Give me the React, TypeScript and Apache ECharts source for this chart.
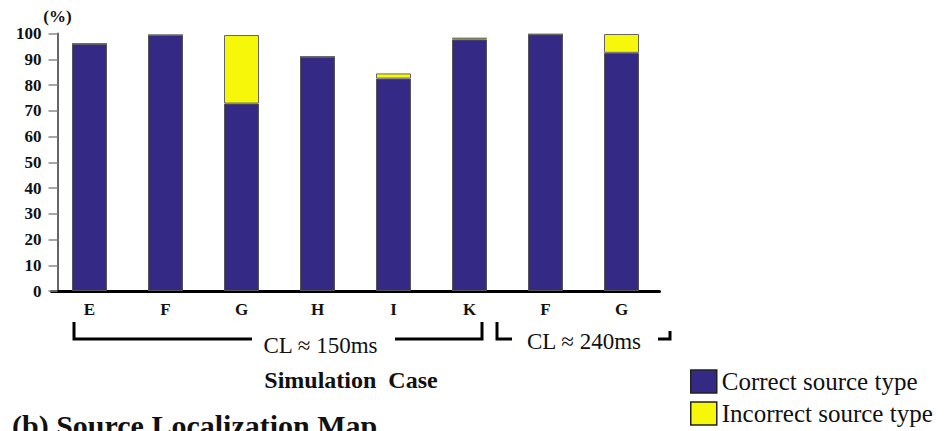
import React, { useEffect, useRef } from "react";
import * as echarts from "echarts";

const categories = ["E", "F", "G", "H", "I", "K", "F", "G"];
const correctValues = [96, 99.4, 72.8, 91, 82.5, 97.7, 99.7, 92.5];
const incorrectValues = [0, 0, 26.6, 0, 2, 0.7, 0, 7.3];
const seriesNames = ["Correct source type", "Incorrect source type"];
const yTicks = { min: 0, max: 100, interval: 10 };

const SERIF = "Liberation Serif";

export default function App() {
  const ref = useRef<HTMLDivElement>(null);
  useEffect(() => {
    if (!ref.current) return;
    const chart = echarts.init(ref.current, null, { renderer: "svg" });
    const line = { stroke: "#000", lineWidth: 3, fill: "none" };
    chart.setOption({
      animation: false,
      backgroundColor: "#fff",
      grid: { left: 51.5, right: 287.5, top: 33.5, bottom: 140, containLabel: false },
      legend: {
        orient: "vertical",
        left: 690,
        top: 369,
        padding: 0,
        height: 62,
        itemWidth: 26,
        itemHeight: 23,
        itemGap: 7,
        icon: "rect",
        data: seriesNames,
        itemStyle: { borderColor: "#222", borderWidth: 1.5 },
        textStyle: { fontFamily: SERIF, fontSize: 25, color: "#111" },
      },
      xAxis: {
        type: "category",
        data: categories,
        axisLine: { lineStyle: { color: "#000", width: 3 } },
        axisTick: { alignWithLabel: true, length: 5, lineStyle: { color: "#999", width: 1.5 } },
        axisLabel: { fontFamily: SERIF, fontWeight: "bold", fontSize: 17, color: "#111", margin: 10 },
      },
      yAxis: {
        type: "value",
        min: yTicks.min,
        max: yTicks.max,
        interval: yTicks.interval,
        offset: -6,
        name: "(%)",
        nameGap: 8,
        nameTextStyle: { fontFamily: SERIF, fontWeight: "bold", fontSize: 17, color: "#111" },
        splitLine: { show: false },
        axisLine: { show: true, lineStyle: { color: "#666", width: 2 } },
        axisTick: { show: true, length: 9, lineStyle: { color: "#888", width: 1.5 } },
        axisLabel: { fontFamily: SERIF, fontWeight: "bold", fontSize: 17, color: "#111", margin: 16 },
      },
      series: [
        {
          name: seriesNames[0],
          type: "bar",
          stack: "total",
          data: correctValues,
          barWidth: 35,
          itemStyle: { color: "#342a85", borderColor: "#555", borderWidth: 1 },
        },
        {
          name: seriesNames[1],
          type: "bar",
          stack: "total",
          data: incorrectValues,
          barWidth: 35,
          itemStyle: { color: "#f7f70a", borderColor: "#666", borderWidth: 1 },
        },
      ],
      graphic: [
        { type: "polyline", shape: { points: [[74, 322], [74, 339], [252, 339]] }, style: line },
        { type: "polyline", shape: { points: [[395, 339], [482, 339], [482, 322]] }, style: line },
        {
          type: "text",
          x: 320.5,
          y: 345,
          style: { text: "CL ≈ 150ms", fontFamily: SERIF, fontSize: 23, fill: "#111", align: "center", verticalAlign: "middle" },
        },
        { type: "polyline", shape: { points: [[497, 322], [497, 339], [512, 339]] }, style: line },
        { type: "polyline", shape: { points: [[658, 339], [670, 339], [670, 331]] }, style: line },
        {
          type: "text",
          x: 584,
          y: 341,
          style: { text: "CL ≈ 240ms", fontFamily: SERIF, fontSize: 23, fill: "#111", align: "center", verticalAlign: "middle" },
        },
        {
          type: "text",
          x: 351,
          y: 380,
          style: { text: "Simulation  Case", fontFamily: SERIF, fontWeight: "bold", fontSize: 24, fill: "#111", align: "center", verticalAlign: "middle" },
        },
        {
          type: "text",
          x: 12,
          y: 410,
          style: { text: "(b) Source Localization Map", fontFamily: SERIF, fontWeight: "bold", fontSize: 30, fill: "#111", align: "left", verticalAlign: "top" },
        },
      ],
    });
    return () => chart.dispose();
  }, []);
  return <div ref={ref} style={{ width: 947, height: 431, position: "fixed", left: 0, top: 0 }} />;
}
